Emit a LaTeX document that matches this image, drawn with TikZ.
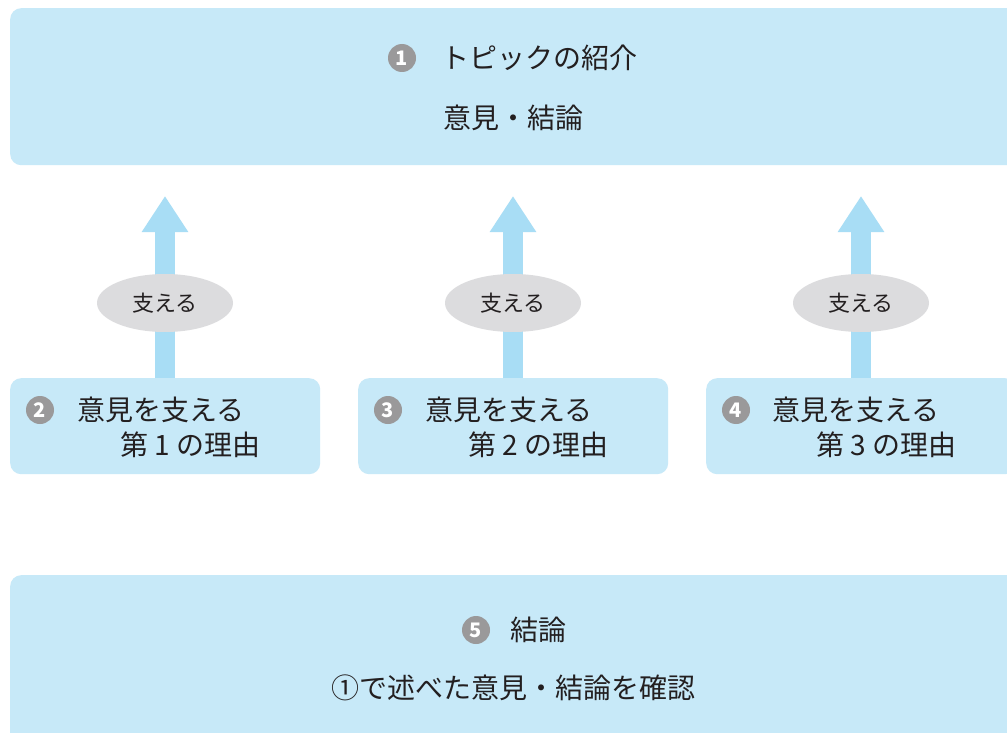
\documentclass[tikz,border=0pt]{standalone}
\usepackage{fontspec}
\setmainfont{Noto Sans CJK JP}
\usetikzlibrary{arrows.meta,shapes.geometric}
\definecolor{boxblue}{HTML}{C7E9F8}
\definecolor{arrowblue}{HTML}{A8DDF5}
\definecolor{ovalgray}{HTML}{DCDCDE}
\definecolor{numgray}{HTML}{9A999A}
\definecolor{txt}{HTML}{231F20}
\tikzset{
  panel/.style={fill=boxblue, draw=none, rounded corners=11pt},
  num/.style={circle, fill=numgray, text=white, inner sep=0pt, minimum size=28pt, font=\fontsize{20}{20}\selectfont\bfseries},
  jtext/.style={inner sep=0pt, text=txt, font=\fontsize{28}{30}\selectfont},
  oval/.style={ellipse, fill=ovalgray, minimum width=136pt, minimum height=58pt, inner sep=0pt, text=txt, font=\fontsize{22}{23}\selectfont},
  bigarrow/.style={arrowblue, line width=20pt, -{Triangle[width=44pt,length=36pt]}}
}
\begin{document}
\begin{tikzpicture}[x=1pt,y=-1pt]
\useasboundingbox (0,0) rectangle (1007,733);
\clip (0,0) rectangle (1007,733);
\fill[white] (0,0) rectangle (1007,733);
% top panel
\node[panel, anchor=north west, minimum width=1010pt, minimum height=157pt] (top) at (10,8) {};
\node[num] (n1) at (402,58) {1};
\node[jtext, anchor=west] (t1) at (441,58) {トピックの紹介};
\node[jtext] (t1b) at (513,118) {意見・結論};
% reason panels
\node[panel, anchor=north west, minimum width=310pt, minimum height=96pt] (r1) at (10,378) {};
\node[panel, anchor=north west, minimum width=310pt, minimum height=96pt] (r2) at (358,378) {};
\node[panel, anchor=north west, minimum width=310pt, minimum height=96pt] (r3) at (706,378) {};
\node[num] (n2) at (40,410) {2};
\node[jtext, anchor=west] (a1) at (77,410) {意見を支える};
\node[jtext, anchor=west] (b1) at (120,445) {第 1 の理由};
\node[num] (n3) at (388,410) {3};
\node[jtext, anchor=west] (a2) at (425,410) {意見を支える};
\node[jtext, anchor=west] (b2) at (468,445) {第 2 の理由};
\node[num] (n4) at (736,410) {4};
\node[jtext, anchor=west] (a3) at (772,410) {意見を支える};
\node[jtext, anchor=west] (b3) at (816,445) {第 3 の理由};
% arrows
\coordinate (h1) at (165,196);
\coordinate (h2) at (513,196);
\coordinate (h3) at (861,196);
\coordinate (s1) at (165,378);
\coordinate (s2) at (513,378);
\coordinate (s3) at (861,378);
\draw[bigarrow] (s1) -- (h1);
\draw[bigarrow] (s2) -- (h2);
\draw[bigarrow] (s3) -- (h3);
\node[oval] (o1) at (165,303) {支える};
\node[oval] (o2) at (513,303) {支える};
\node[oval] (o3) at (861,303) {支える};
% bottom panel
\node[panel, anchor=north west, minimum width=1010pt, minimum height=170pt] (bot) at (10,575) {};
\node[num] (n5) at (476,630) {5};
\node[jtext, anchor=west] (t5) at (510,630) {結論};
\node[jtext] (t5b) at (513,688) {①で述べた意見・結論を確認};
\end{tikzpicture}
\end{document}
